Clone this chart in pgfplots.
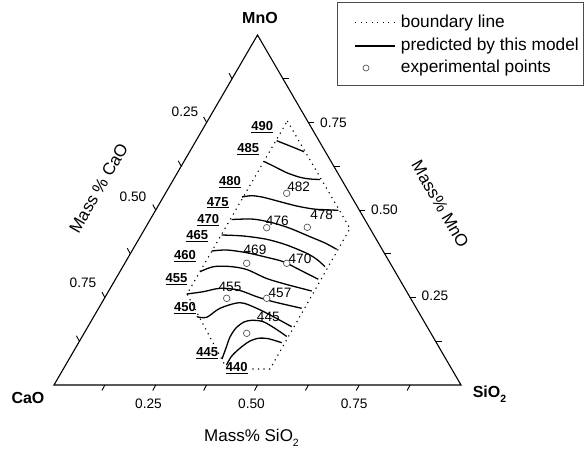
\documentclass[border=0pt]{standalone}
\usepackage{fontspec}
\setmainfont{Liberation Sans}
\usepackage{pgfplots}
\pgfplotsset{compat=1.18}
\newcommand{\fs}[1]{\fontsize{#1}{#1}\selectfont}
\newcommand{\lowsub}[1]{\raisebox{-4.5pt}{\fs{10.5}#1}}
\begin{document}
\begin{tikzpicture}
\useasboundingbox (0,0) rectangle (586pt,452pt);
\begin{axis}[
  at={(0,0)}, anchor=south west,
  scale only axis, width=586pt, height=452pt,
  xmin=0, xmax=586, ymin=0, ymax=452, y dir=reverse,
  hide axis, clip=false,
]
% triangle frame
\draw[line width=1.1pt, line join=miter] (axis cs:54,385) -- (axis cs:461,385) -- (axis cs:257.5,35) -- cycle;
% bottom ticks (SiO2)
\draw[line width=0.9pt] (axis cs:104.9,385) -- ++(-3pt,-5.5pt);
\draw[line width=0.9pt] (axis cs:155.75,385) -- ++(-3pt,-5.5pt);
\draw[line width=0.9pt] (axis cs:206.6,385) -- ++(-3pt,-5.5pt);
\draw[line width=0.9pt] (axis cs:257.5,385) -- ++(-3pt,-5.5pt);
\draw[line width=0.9pt] (axis cs:308.4,385) -- ++(-3pt,-5.5pt);
\draw[line width=0.9pt] (axis cs:359.25,385) -- ++(-3pt,-5.5pt);
\draw[line width=0.9pt] (axis cs:410.1,385) -- ++(-3pt,-5.5pt);
% left ticks (CaO)
\draw[line width=0.9pt] (axis cs:232.06,78.75) -- ++(-3pt,5.5pt);
\draw[line width=0.9pt] (axis cs:206.6,122.5) -- ++(-3pt,5.5pt);
\draw[line width=0.9pt] (axis cs:181.2,166.25) -- ++(-3pt,5.5pt);
\draw[line width=0.9pt] (axis cs:155.75,210) -- ++(-3pt,5.5pt);
\draw[line width=0.9pt] (axis cs:130.3,253.75) -- ++(-3pt,5.5pt);
\draw[line width=0.9pt] (axis cs:104.9,297.5) -- ++(-3pt,5.5pt);
\draw[line width=0.9pt] (axis cs:79.4,341.25) -- ++(-3pt,5.5pt);
% right ticks (MnO)
\draw[line width=0.9pt] (axis cs:435.56,341.25) -- ++(6pt,0pt);
\draw[line width=0.9pt] (axis cs:410.1,297.5) -- ++(6pt,0pt);
\draw[line width=0.9pt] (axis cs:384.7,253.75) -- ++(6pt,0pt);
\draw[line width=0.9pt] (axis cs:359.25,210) -- ++(6pt,0pt);
\draw[line width=0.9pt] (axis cs:333.8,166.25) -- ++(6pt,0pt);
\draw[line width=0.9pt] (axis cs:308.4,122.5) -- ++(6pt,0pt);
\draw[line width=0.9pt] (axis cs:282.9,78.75) -- ++(6pt,0pt);
% tick labels
\node[font=\fs{13.7}] at (axis cs:148.5,404) {0.25};
\node[font=\fs{13.7}] at (axis cs:251.5,404) {0.50};
\node[font=\fs{13.7}] at (axis cs:354.2,404) {0.75};
\node[font=\fs{13.7}] at (axis cs:185,111.5) {0.25};
\node[font=\fs{13.7}] at (axis cs:133,196.5) {0.50};
\node[font=\fs{13.7}] at (axis cs:83,282.5) {0.75};
\node[font=\fs{13.7}, anchor=west, inner xsep=0pt] at (axis cs:320,122.5) {0.75};
\node[font=\fs{13.7}, anchor=west, inner xsep=0pt] at (axis cs:371,210) {0.50};
\node[font=\fs{13.7}, anchor=west, inner xsep=0pt] at (axis cs:421.5,296) {0.25};
% vertex labels
\node[font=\fs{16}\bfseries] at (axis cs:28,398) {CaO};
\node[font=\fs{16}\bfseries] at (axis cs:260,18.3) {MnO};
\node[font=\fs{16}\bfseries, anchor=west, inner xsep=0pt] at (axis cs:472.6,394) {SiO\lowsub{\bfseries 2}};
% axis titles
\node[font=\fs{17}, anchor=west, inner xsep=0pt] at (axis cs:204,438) {Mass\% SiO\lowsub{2}};
\node[font=\fs{17}, rotate=60] at (axis cs:98.6,188) {Mass \% CaO};
\node[font=\fs{17}, rotate=-60] at (axis cs:440.3,204.2) {Mass\% MnO};
% boundary line
\addplot[black, line width=1.1pt, dash pattern=on 1.2pt off 4.3pt] coordinates {
 (287.3,121) (350,228.5) (270,369) (227,369) (187,294) (287.3,121)};
% contour labels
\begin{scope}[every node/.style={font=\fs{13}\bfseries, inner sep=1pt}]
\node at (axis cs:262.3,126.7) {\underline{490}};
\node at (axis cs:248.3,149) {\underline{485}};
\node at (axis cs:230,181.7) {\underline{480}};
\node at (axis cs:217.7,202.7) {\underline{475}};
\node at (axis cs:208.3,220) {\underline{470}};
\node at (axis cs:197.3,236) {\underline{465}};
\node at (axis cs:185,255.7) {\underline{460}};
\node at (axis cs:176.5,279.5) {\underline{455}};
\node at (axis cs:185,307.7) {\underline{450}};
\node at (axis cs:207.3,353.3) {\underline{445}};
\node[fill=white] at (axis cs:236.7,367.7) {\underline{440}};
\end{scope}
% predicted contours
\pgfplotsset{cont/.style={black, line width=1.3pt, smooth, tension=0.5}}
\addplot[cont] coordinates {(276.7,140.7) (290,146) (304,151.7)};
\addplot[cont] coordinates {(264,161.5) (273.3,166) (286.7,172.7) (300,177.3) (310,179) (320,179.5)};
\addplot[cont] coordinates {(242,197) (251.7,195.7) (263.3,197.3) (280,201.7) (296.7,206) (313.3,209) (326.7,209.8) (338.3,210.3)};
\addplot[cont] coordinates {(231.7,219.5) (246.7,219) (256.7,219.5) (273.3,223) (290,228.3) (310,236.7) (325,243) (336.7,249.3)};
\addplot[cont] coordinates {(221.7,235) (243.3,236) (266.7,239.3) (286.7,245) (306.7,253.3) (317,259.5) (325,266.7)};
\addplot[cont] coordinates {(211.7,251) (226.7,250) (246.7,252.7) (266.7,257.3) (283.3,261.7) (300,270) (318.3,279.3)};
\addplot[cont] coordinates {(200,271.7) (213.3,266.7) (230,266.5) (246.7,269.5) (266.7,278.5) (286.7,284.5) (311.7,291)};
\addplot[cont] coordinates {(186.7,294) (203.3,291.7) (220,288.3) (238.3,290) (256.7,296.7) (273.3,301.7) (301.7,308.3)};
\addplot[cont] coordinates {(196.7,316.7) (206.7,317.3) (220,308.3) (240,302.7) (256.7,308.3) (273.3,316.7) (291.7,326.7)};
\addplot[cont] coordinates {(222,359) (226,348) (230,337) (236,328) (244,322) (252,320.3) (263.3,321.7) (276.7,329.5) (286.7,336.5)};
\addplot[cont] coordinates {(226.5,365) (231,357) (236.7,351) (244,345) (250,341) (258.3,338.3) (268,338.6) (281.7,342.7)};
% experimental points
\addplot[only marks, mark=*, mark size=3.3pt, mark options={draw=black!65, fill=white, line width=0.7pt}] coordinates {
 (286.7,193.3) (266.7,227.7) (307.3,227.3) (246.7,263.3) (286.7,263.3) (226.7,298.3) (266.7,298.3) (246.7,333.3)};
% point labels
\begin{scope}[every node/.style={font=\fs{13.6}, inner sep=0pt}]
\node at (axis cs:298.7,186.7) {482};
\node at (axis cs:277.3,220.7) {476};
\node at (axis cs:321.7,215) {478};
\node at (axis cs:255,250) {469};
\node at (axis cs:300,259.3) {470};
\node at (axis cs:230,286.7) {455};
\node at (axis cs:280,292.7) {457};
\node at (axis cs:268.3,316.7) {445};
\end{scope}
% legend
\draw[black!70, line width=0.9pt] (axis cs:337.7,2.7) rectangle (axis cs:583,85);
\draw[black, line width=1.1pt, dash pattern=on 1.2pt off 4.3pt] (axis cs:355,22.7) -- (axis cs:395,22.7);
\draw[black, line width=1.3pt] (axis cs:355,46) -- (axis cs:395,46);
\addplot[only marks, forget plot, mark=*, mark size=3pt, mark options={draw=black!65, fill=white, line width=0.7pt}] coordinates {(366,68)};
\node[font=\fs{17.3}, anchor=west, inner xsep=0pt] at (axis cs:400.7,22.7) {boundary line};
\node[font=\fs{17.3}, anchor=west, inner xsep=0pt] at (axis cs:400.7,46) {predicted by this model};
\node[font=\fs{17.3}, anchor=west, inner xsep=0pt] at (axis cs:400.7,68) {experimental points};
\end{axis}
\end{tikzpicture}
\end{document}
